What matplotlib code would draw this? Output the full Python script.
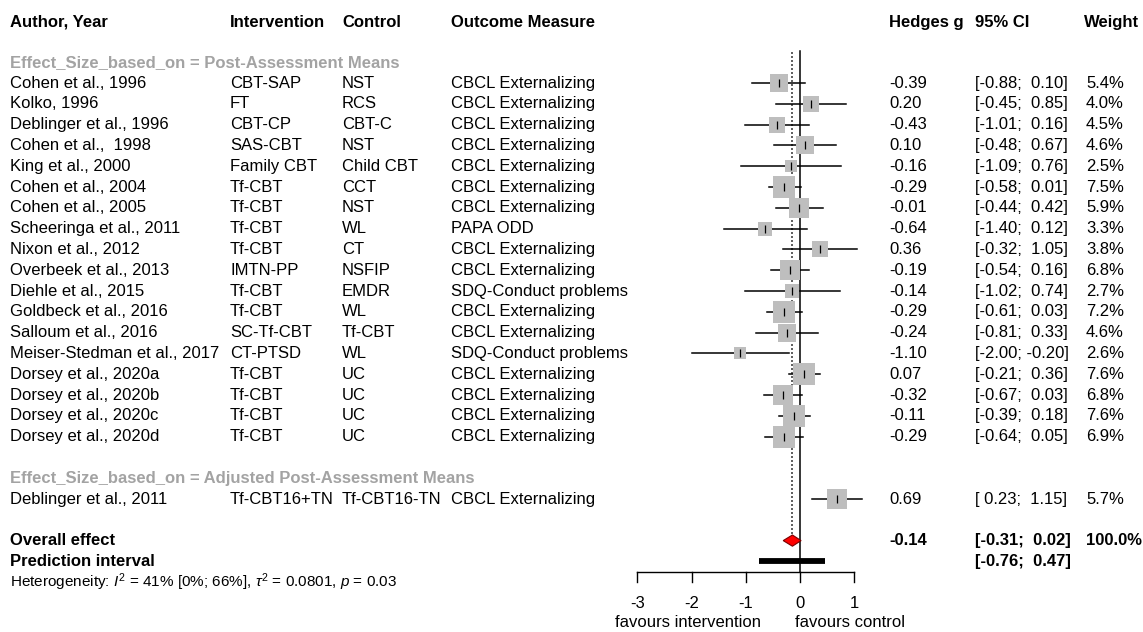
import numpy as np
import matplotlib
matplotlib.use('Agg')
from matplotlib import pyplot as plt
from matplotlib.transforms import blended_transform_factory

plt.rcParams['font.family'] = ['Liberation Sans', 'DejaVu Sans']
plt.rcParams['mathtext.fontset'] = 'custom'
plt.rcParams['mathtext.rm'] = 'Liberation Sans'
plt.rcParams['mathtext.it'] = 'Liberation Sans:italic'

# study data, group 1 (post-assessment means)
authors = ['Cohen et al., 1996', 'Kolko, 1996', 'Deblinger et al., 1996', 'Cohen et al.,  1998',
           'King et al., 2000', 'Cohen et al., 2004', 'Cohen et al., 2005', 'Scheeringa et al., 2011',
           'Nixon et al., 2012', 'Overbeek et al., 2013', 'Diehle et al., 2015', 'Goldbeck et al., 2016',
           'Salloum et al., 2016', 'Meiser-Stedman et al., 2017', 'Dorsey et al., 2020a',
           'Dorsey et al., 2020b', 'Dorsey et al., 2020c', 'Dorsey et al., 2020d']
interventions = ['CBT-SAP', 'FT', 'CBT-CP', 'SAS-CBT', 'Family CBT', 'Tf-CBT', 'Tf-CBT', 'Tf-CBT',
                 'Tf-CBT', 'IMTN-PP', 'Tf-CBT', 'Tf-CBT', 'SC-Tf-CBT', 'CT-PTSD', 'Tf-CBT', 'Tf-CBT',
                 'Tf-CBT', 'Tf-CBT']
controls = ['NST', 'RCS', 'CBT-C', 'NST', 'Child CBT', 'CCT', 'NST', 'WL', 'CT', 'NSFIP', 'EMDR',
            'WL', 'Tf-CBT', 'WL', 'UC', 'UC', 'UC', 'UC']
outcomes = ['CBCL Externalizing'] * 7 + ['PAPA ODD'] + ['CBCL Externalizing'] * 2 + \
           ['SDQ-Conduct problems'] + ['CBCL Externalizing'] * 2 + ['SDQ-Conduct problems'] + \
           ['CBCL Externalizing'] * 4
hedges_g = [-0.39, 0.20, -0.43, 0.10, -0.16, -0.29, -0.01, -0.64, 0.36, -0.19, -0.14, -0.29,
            -0.24, -1.10, 0.07, -0.32, -0.11, -0.29]
ci_low = [-0.88, -0.45, -1.01, -0.48, -1.09, -0.58, -0.44, -1.40, -0.32, -0.54, -1.02, -0.61,
          -0.81, -2.00, -0.21, -0.67, -0.39, -0.64]
ci_high = [0.10, 0.85, 0.16, 0.67, 0.76, 0.01, 0.42, 0.12, 1.05, 0.16, 0.74, 0.03, 0.33, -0.20,
           0.36, 0.03, 0.18, 0.05]
weights = [5.4, 4.0, 4.5, 4.6, 2.5, 7.5, 5.9, 3.3, 3.8, 6.8, 2.7, 7.2, 4.6, 2.6, 7.6, 6.8, 7.6, 6.9]

# group 2 (adjusted post-assessment means)
authors2 = ['Deblinger et al., 2011']
interventions2 = ['Tf-CBT16+TN']
controls2 = ['Tf-CBT16-TN']
outcomes2 = ['CBCL Externalizing']
hedges_g2 = [0.69]
ci_low2 = [0.23]
ci_high2 = [1.15]
weights2 = [5.7]

group_labels = ['Effect_Size_based_on = Post-Assessment Means',
                'Effect_Size_based_on = Adjusted Post-Assessment Means']

overall = -0.14
overall_ci = (-0.31, 0.02)
pred_ci = (-0.76, 0.47)
x_ticks = [-3, -2, -1, 0, 1]
headers = ['Author, Year', 'Intervention', 'Control', 'Outcome Measure', 'Hedges g', '95% CI', 'Weight']

W, H = 1143, 632
PX_PER_UNIT = 54.2
ZERO_PX = 800
ROW0_PX, ROW_H = 83, 20.8

fig = plt.figure(figsize=(W / 100, H / 100), dpi=100)
ax = fig.add_axes([0, 0, 1, 1])
ax.set_xlim(-ZERO_PX / PX_PER_UNIT, (W - ZERO_PX) / PX_PER_UNIT)
ax.set_ylim((H - ROW0_PX) / ROW_H, -ROW0_PX / ROW_H)
ax.axis('off')

tr = blended_transform_factory(fig.transFigure, ax.transData)
col_x = [10, 230, 342, 451, 889, 975, 1086]
col_x = [c / W for c in col_x]
fs = 12
gray_txt = '#A3A3A3'


def ci_str(lo, hi):
    return '[{:5.2f}; {:5.2f}]'.format(lo, hi).replace('[ -', '[-')


def draw_row(y, a, i, c, o, g, lo, hi, w):
    for x, s in zip(col_x, [a, i, c, o, '%.2f' % g, ci_str(lo, hi), '%.1f%%' % w]):
        ax.text(x, y, s, transform=tr, fontsize=fs, va='center', ha='left')
    ax.plot([lo, hi], [y, y], color='black', lw=1.1, zorder=2)
    side = 8.0 * np.sqrt(w) * 0.72
    ax.plot(g, y, 's', ms=side, color='#BEBEBE', mew=0, zorder=3)
    ax.plot(g, y, '|', ms=6, color='black', mew=0.9, zorder=4)


# header
for j, h in enumerate(headers):
    xx = col_x[j] if j < 6 else (1084 / W)
    ax.text(xx, -2.93, h, transform=tr, fontsize=fs, fontweight='bold', va='center', ha='left')

ax.text(col_x[0], -1, group_labels[0], transform=tr, fontsize=fs, fontweight='bold',
        color=gray_txt, va='center')
for k in range(len(authors)):
    draw_row(k, authors[k], interventions[k], controls[k], outcomes[k], hedges_g[k],
             ci_low[k], ci_high[k], weights[k])

y2 = len(authors) + 1
ax.text(col_x[0], y2, group_labels[1], transform=tr, fontsize=fs, fontweight='bold',
        color=gray_txt, va='center')
for k in range(len(authors2)):
    draw_row(y2 + 1 + k, authors2[k], interventions2[k], controls2[k], outcomes2[k],
             hedges_g2[k], ci_low2[k], ci_high2[k], weights2[k])

y_over = y2 + 3
y_pred = y_over + 1
y_het = y_pred + 1
axis_y = y_pred + 0.5

# overall diamond
dh = 0.27
ax.fill([overall_ci[0], overall, overall_ci[1], overall],
        [y_over, y_over - dh, y_over, y_over + dh],
        facecolor='red', edgecolor='#7a0000', lw=0.8, zorder=5)
ax.text(col_x[0], y_over, 'Overall effect', transform=tr, fontsize=fs, fontweight='bold', va='center')
ax.text(col_x[4], y_over, '%.2f' % overall, transform=tr, fontsize=fs, fontweight='bold', va='center')
ax.text(col_x[5], y_over, ci_str(*overall_ci), transform=tr, fontsize=fs, fontweight='bold', va='center')
ax.text(col_x[6], y_over, '100.0%', transform=tr, fontsize=fs, fontweight='bold', va='center')

# prediction interval
ax.plot(pred_ci, [y_pred, y_pred], color='black', lw=4.2, solid_capstyle='butt')
ax.text(col_x[0], y_pred, 'Prediction interval', transform=tr, fontsize=fs, fontweight='bold', va='center')
ax.text(col_x[5], y_pred, ci_str(*pred_ci), transform=tr, fontsize=fs, fontweight='bold', va='center')

ax.text(col_x[0], y_het,
        r'Heterogeneity: $\mathit{I}^2$ = 41% [0%; 66%], $\tau^2$ = 0.0801, $\mathit{p}$ = 0.03',
        transform=tr, fontsize=11, va='center')

# reference lines
ax.plot([0, 0], [-1.55, axis_y], color='black', lw=1.1, zorder=1)
ax.plot([overall, overall], [-1.5, y_over - dh], color='#444444', lw=1.2, ls=(0, (1.2, 1.2)), zorder=1)

# x axis
ax.plot([x_ticks[0], x_ticks[-1]], [axis_y, axis_y], color='black', lw=1.0)
for t in x_ticks:
    ax.plot([t, t], [axis_y, axis_y + 0.5], color='black', lw=1.0)
    ax.text(t, axis_y + 1.5, '%d' % t, fontsize=fs, ha='center', va='center')
ax.text(-0.72, axis_y + 2.45, 'favours intervention', fontsize=fs, ha='right', va='center')
ax.text(-0.09, axis_y + 2.45, 'favours control', fontsize=fs, ha='left', va='center')

plt.savefig('out.png', dpi=100)
